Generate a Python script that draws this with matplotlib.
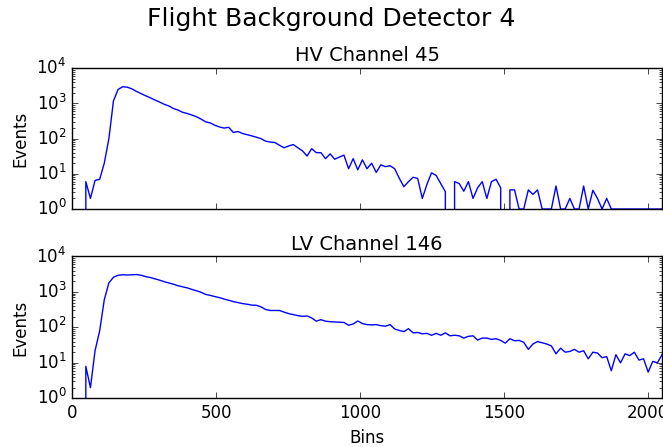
import matplotlib
matplotlib.use("Agg")
import matplotlib.pyplot as plt
import numpy as np

# bin positions (every 16th bin) and counts
bins = np.arange(0, 2049, 16)

hv_counts = [
    2, 0, 0, 6, 2, 6.5, 7, 20, 100, 1200,
    2500, 3000, 2900, 2600, 2200, 1900, 1650, 1450, 1250, 1100,
    950, 850, 720, 650, 560, 520, 470, 420, 360, 300,
    280, 240, 215, 200, 210, 150, 160, 140, 130, 120,
    110, 100, 85, 80, 78, 65, 55, 62, 68, 55,
    45, 32, 52, 40, 40, 27, 37, 26, 30, 34,
    14, 27, 13, 25, 14, 20, 11, 18, 16, 17,
    14, 7.5, 4.3, 6, 8, 7.4, 2, 5, 10.7, 9,
    5.3, 3.1, 0, 6, 5.3, 3.2, 6, 2, 4, 6,
    2, 6, 7, 4, 0, 3.5, 3.5, 1, 1, 3.5,
    2.6, 3.5, 1, 1, 1, 4.5, 1, 1, 2, 1,
    1, 4.5, 1, 3.4, 2, 1, 2, 1, 1, 1,
    1, 1, 1, 1, 1, 1, 1, 1, 1,
]

lv_counts = [
    3.5, 0, 0, 8, 2, 22, 80, 600, 1800, 2600,
    2950, 3050, 3000, 3050, 3100, 2950, 2700, 2550, 2350, 2150,
    1950, 1800, 1650, 1500, 1400, 1300, 1180, 1080, 980, 850,
    800, 740, 690, 630, 580, 535, 500, 470, 450, 425,
    420, 380, 320, 300, 300, 300, 270, 245, 230, 215,
    205, 210, 185, 150, 165, 150, 145, 142, 140, 138,
    115, 125, 152, 128, 120, 118, 120, 112, 108, 120,
    90, 82, 76, 92, 70, 72, 66, 68, 60, 68,
    60, 70, 58, 60, 58, 50, 56, 58, 44, 50,
    50, 46, 48, 43, 36, 48, 42, 43, 38, 24,
    34, 40, 37, 34, 30, 18, 26, 20, 21, 24,
    20, 22, 13, 20, 19, 14, 15, 6, 17, 10,
    18, 16, 20, 12, 13, 5.5, 11, 10, 17,
]

plt.style.use('classic')
fig = plt.figure(figsize=(6.63, 4.47), dpi=100)
fig.patch.set_facecolor('white')

ax1 = fig.add_axes([0.1086, 0.5324, 0.8899, 0.3148])
ax2 = fig.add_axes([0.1086, 0.1089, 0.8899, 0.3173], sharex=ax1)

ax1.plot(bins, hv_counts, 'b', linewidth=1.0)
ax2.plot(bins, lv_counts, 'b', linewidth=1.0)

for ax, title in [(ax1, 'HV Channel 45'), (ax2, 'LV Channel 146')]:
    ax.set_yscale('log')
    ax.set_ylim(1, 1e4)
    ax.set_xlim(0, 2048)
    ax.set_ylabel('Events', fontsize=12)
    ax.set_title(title, fontsize=14)
    ax.tick_params(labelsize=12)

plt.setp(ax1.get_xticklabels(), visible=False)
ax2.set_xlabel('Bins', fontsize=12)
ax2.set_xticks([0, 500, 1000, 1500, 2000])

fig.suptitle('Flight Background Detector 4', fontsize=18, y=0.985)

plt.savefig('out.png', dpi=100, facecolor='white')
